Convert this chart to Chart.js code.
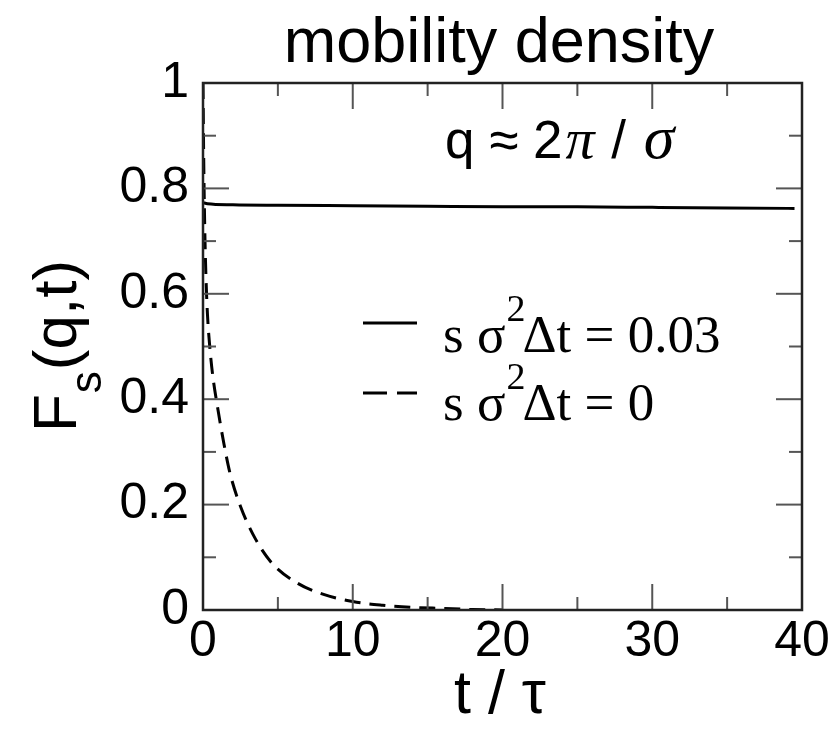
<!DOCTYPE html>
<html>
<head>
<meta charset="utf-8">
<script src="https://cdn.jsdelivr.net/npm/chart.js@4.4.1/dist/chart.umd.min.js"></script>
<style>
  html, body { margin: 0; padding: 0; background: #fff; }
</style>
</head>
<body>
<canvas id="chart" width="840" height="731"></canvas>
<script>
// s sigma^2 dt = 0 (dashed): fast decay
const tFree = [0, 0.05, 0.12, 0.2, 0.3, 0.45, 0.65, 1.0, 1.4, 1.8, 2.5, 3.5, 4.6, 6.3, 8, 10, 12, 14, 16, 18, 20];
const fFree = [1.0, 0.85, 0.72, 0.63, 0.56, 0.5, 0.445, 0.38, 0.315, 0.26, 0.197, 0.135, 0.089, 0.051, 0.03, 0.016, 0.009, 0.005, 0.003, 0.001, 0.0];

// s sigma^2 dt = 0.03 (solid): plateau
const tStuck = [0, 0.3, 2, 5, 10, 15, 20, 25, 30, 35, 39.5];
const fStuck = [0.773, 0.771, 0.769, 0.768, 0.767, 0.766, 0.765, 0.765, 0.764, 0.763, 0.762];

const xMajor = [0, 10, 20, 30, 40];
const xMinor = [5, 15, 25, 35];
const yMajor = [0, 0.2, 0.4, 0.6, 0.8, 1];
const yMinor = [0.1, 0.3, 0.5, 0.7, 0.9];

const SANS = "'Liberation Sans', Arial, Helvetica, sans-serif";
const SERIF = "'Liberation Serif', 'Times New Roman', serif";

const toPoints = (xs, ys) => xs.map((x, i) => ({ x: x, y: ys[i] }));

// frame, inward ticks and all the extra text
const decor = {
  id: "decor",
  afterDatasetsDraw(chart) {
    const c = chart.ctx;
    const a = chart.chartArea;
    const sx = chart.scales.x;
    const sy = chart.scales.y;
    c.save();

    // inward ticks
    c.strokeStyle = "#555";
    c.lineWidth = 2;
    const tick = (x1, y1, x2, y2) => {
      c.beginPath();
      c.moveTo(x1, y1);
      c.lineTo(x2, y2);
      c.stroke();
    };
    xMajor.forEach(v => {
      const px = sx.getPixelForValue(v);
      tick(px, a.bottom, px, a.bottom - 26);
      tick(px, a.top, px, a.top + 26);
    });
    xMinor.forEach(v => {
      const px = sx.getPixelForValue(v);
      tick(px, a.bottom, px, a.bottom - 13);
      tick(px, a.top, px, a.top + 13);
    });
    yMajor.forEach(v => {
      const py = sy.getPixelForValue(v);
      tick(a.left, py, a.left + 26, py);
      tick(a.right, py, a.right - 26, py);
    });
    yMinor.forEach(v => {
      const py = sy.getPixelForValue(v);
      tick(a.left, py, a.left + 13, py);
      tick(a.right, py, a.right - 13, py);
    });

    // frame
    c.strokeStyle = "#222";
    c.lineWidth = 2.5;
    c.strokeRect(a.left, a.top, a.right - a.left, a.bottom - a.top);

    c.fillStyle = "#000";
    c.textBaseline = "alphabetic";

    // title
    c.font = "63px " + SANS;
    c.textAlign = "center";
    c.fillText("mobility density", 499, 62);

    // x axis title
    c.font = "61px " + SANS;
    c.fillText("t / \u03C4", 500, 713);

    // y axis title, rotated
    c.save();
    c.translate(76, 432);
    c.rotate(-Math.PI / 2);
    c.textAlign = "left";
    c.font = "62px " + SANS;
    c.fillText("F", 0, 0);
    let w = c.measureText("F").width + 1;
    c.font = "44px " + SANS;
    c.fillText("s", w, 25);
    w += c.measureText("s").width + 1;
    c.font = "62px " + SANS;
    c.fillText("(q,t)", w, 0);
    c.restore();

    // annotation q ~ 2 pi / sigma
    c.textAlign = "left";
    let x = 445;
    const yb = 158;
    const put = (s, font, gap) => {
      c.font = font;
      c.fillText(s, x, yb);
      x += c.measureText(s).width + gap;
    };
    put("q \u2248 2", "53px " + SANS, 3);
    put("\u03C0", "italic 58px " + SERIF, 2);
    put(" / ", "53px " + SANS, 3);
    put("\u03C3", "italic 62px " + SERIF, 0);

    // legend
    const legendRow = (dash, ly, tb, rest) => {
      c.strokeStyle = "#000";
      c.lineWidth = 3;
      c.setLineDash(dash);
      c.beginPath();
      c.moveTo(363, ly);
      c.lineTo(417, ly);
      c.stroke();
      c.setLineDash([]);
      let lx = 443;
      c.font = "53px " + SERIF;
      c.fillText("s \u03C3", lx, tb);
      lx += c.measureText("s \u03C3").width + 1;
      c.font = "38px " + SERIF;
      c.fillText("2", lx, tb - 31);
      lx += c.measureText("2").width - 3;
      c.font = "53px " + SERIF;
      c.fillText("\u0394t = " + rest, lx, tb);
    };
    legendRow([], 323, 352, "0.03");
    legendRow([24, 10], 393, 420, "0");

    c.restore();
  }
};

const chart = new Chart(document.getElementById("chart").getContext("2d"), {
  type: "line",
  data: {
    datasets: [
      {
        label: "s σ²Δt = 0.03",
        data: toPoints(tStuck, fStuck),
        borderColor: "#000",
        borderWidth: 3,
        pointRadius: 0,
        fill: false,
        cubicInterpolationMode: "monotone",
      },
      {
        label: "s σ²Δt = 0",
        data: toPoints(tFree, fFree),
        borderColor: "#000",
        borderWidth: 3,
        borderDash: [16, 9],
        pointRadius: 0,
        fill: false,
        cubicInterpolationMode: "monotone",
      },
    ],
  },
  options: {
    responsive: false,
    animation: false,
    devicePixelRatio: 1,
    layout: { padding: { top: 83, right: 38, left: 0, bottom: 0 } },
    plugins: {
      legend: { display: false },
      title: { display: false },
      tooltip: { enabled: false },
    },
    scales: {
      x: {
        type: "linear",
        min: 0,
        max: 40,
        grid: { display: false },
        border: { display: false },
        ticks: {
          stepSize: 10,
          autoSkip: false,
          maxRotation: 0,
          padding: -6,
          color: "#000",
          font: { family: SANS, size: 50 },
        },
        afterFit: s => { s.height = 121; },
      },
      y: {
        type: "linear",
        min: 0,
        max: 1,
        grid: { display: false },
        border: { display: false },
        ticks: {
          stepSize: 0.2,
          autoSkip: false,
          padding: 6,
          color: "#000",
          font: { family: SANS, size: 50 },
          callback: v => (v === 0 || v === 1) ? String(v) : v.toFixed(1),
        },
        afterFit: s => { s.width = 203; },
      },
    },
  },
  plugins: [decor],
});
</script>
</body>
</html>
